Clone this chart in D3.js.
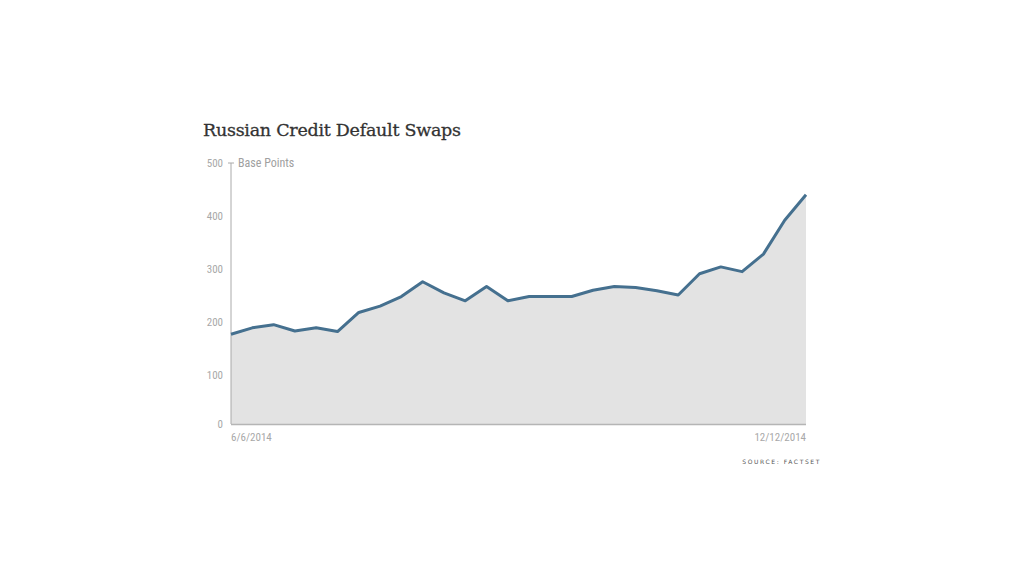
<!DOCTYPE html>
<html><head><meta charset="utf-8">
<script src="https://cdn.jsdelivr.net/npm/d3@7"></script>
<style>
body{margin:0;background:#fff;}
svg{display:block;}
</style></head>
<body>
<svg id="c" width="1024" height="576"></svg>
<script>
const dates = ["6/6/2014","6/13/2014","6/20/2014","6/27/2014","7/4/2014","7/11/2014","7/18/2014","7/25/2014","8/1/2014","8/8/2014","8/15/2014","8/22/2014","8/29/2014","9/5/2014","9/12/2014","9/19/2014","9/26/2014","10/3/2014","10/10/2014","10/17/2014","10/24/2014","10/31/2014","11/7/2014","11/14/2014","11/21/2014","11/28/2014","12/5/2014","12/12/2014"];
const values = [177,189,195,183,189,182,218,230,248,276,255,240,267,240,248,248,248,260,267,265,259,251,291,304,295,328,392,440];
const yTicks = [0,100,200,300,400,500];
const xTickLabels = ["6/6/2014","12/12/2014"];
const title = "Russian Credit Default Swaps";
const unit = "Base Points";
const source = "SOURCE: FACTSET";

const parse = d3.timeParse("%-m/%-d/%Y");
const data = dates.map((d,i)=>({date:parse(d), v:values[i]}));

const L=231, R=806, T=163, B=428, plotBottom=424;
const svg = d3.select("#c");
const x = d3.scaleTime().domain(d3.extent(data,d=>d.date)).range([L,R]);
const y = d3.scaleLinear().domain([0,500]).range([B,T]);
const axisFont = "'Liberation Sans Narrow','Roboto Condensed','Liberation Sans',sans-serif";

svg.append("text").attr("x",203).attr("y",136).text(title)
  .attr("font-family","'DejaVu Serif','Liberation Serif',serif").attr("font-size",17.5)
  .attr("fill","#333").attr("stroke","#333").attr("stroke-width",0.3).attr("textLength",258);

const area = d3.area().x(d=>x(d.date)).y0(plotBottom).y1(d=>y(d.v));
svg.append("path").datum(data).attr("d",area).attr("fill","#e3e3e3");

svg.append("line").attr("x1",L).attr("x2",L).attr("y1",y(500)).attr("y2",plotBottom).attr("stroke","#aaa").attr("stroke-width",1);
svg.append("line").attr("x1",L-3).attr("x2",L+3).attr("y1",y(500)).attr("y2",y(500)).attr("stroke","#aaa");
svg.append("line").attr("x1",L).attr("x2",R).attr("y1",plotBottom+0.5).attr("y2",plotBottom+0.5).attr("stroke","#b5b5b5").attr("stroke-width",1.5);

const line = d3.line().x(d=>x(d.date)).y(d=>y(d.v));
svg.append("path").datum(data).attr("d",line).attr("fill","none")
  .attr("stroke","#45708f").attr("stroke-width",3).attr("stroke-linejoin","round");

svg.selectAll(".yt").data(yTicks).enter().append("text")
  .attr("x",223).attr("y",d=> d===0 ? plotBottom : y(d)).attr("dy","0.35em")
  .attr("text-anchor","end").attr("font-family",axisFont).attr("font-size",11)
  .attr("fill","#a8a8a8").text(d=>d);

svg.append("text").attr("x",238).attr("y",y(500)).attr("dy","0.35em")
  .attr("font-family",axisFont).attr("font-size",12).attr("fill","#a0a0a0").text(unit);

svg.selectAll(".xt").data(xTickLabels).enter().append("text")
  .attr("x",d=>x(parse(d))).attr("y",437).attr("dy","0.35em")
  .attr("text-anchor",(d,i)=> i===0 ? "start" : "end")
  .attr("font-family",axisFont).attr("font-size",11).attr("fill","#a8a8a8").text(d=>d);

svg.append("text").attr("x",821).attr("y",462).attr("dy","0.35em").attr("text-anchor","end")
  .attr("font-family","'DejaVu Sans','Liberation Sans',sans-serif").attr("font-size",6)
  .attr("letter-spacing",1.6).attr("fill","#555").text(source);
</script>
</body></html>
